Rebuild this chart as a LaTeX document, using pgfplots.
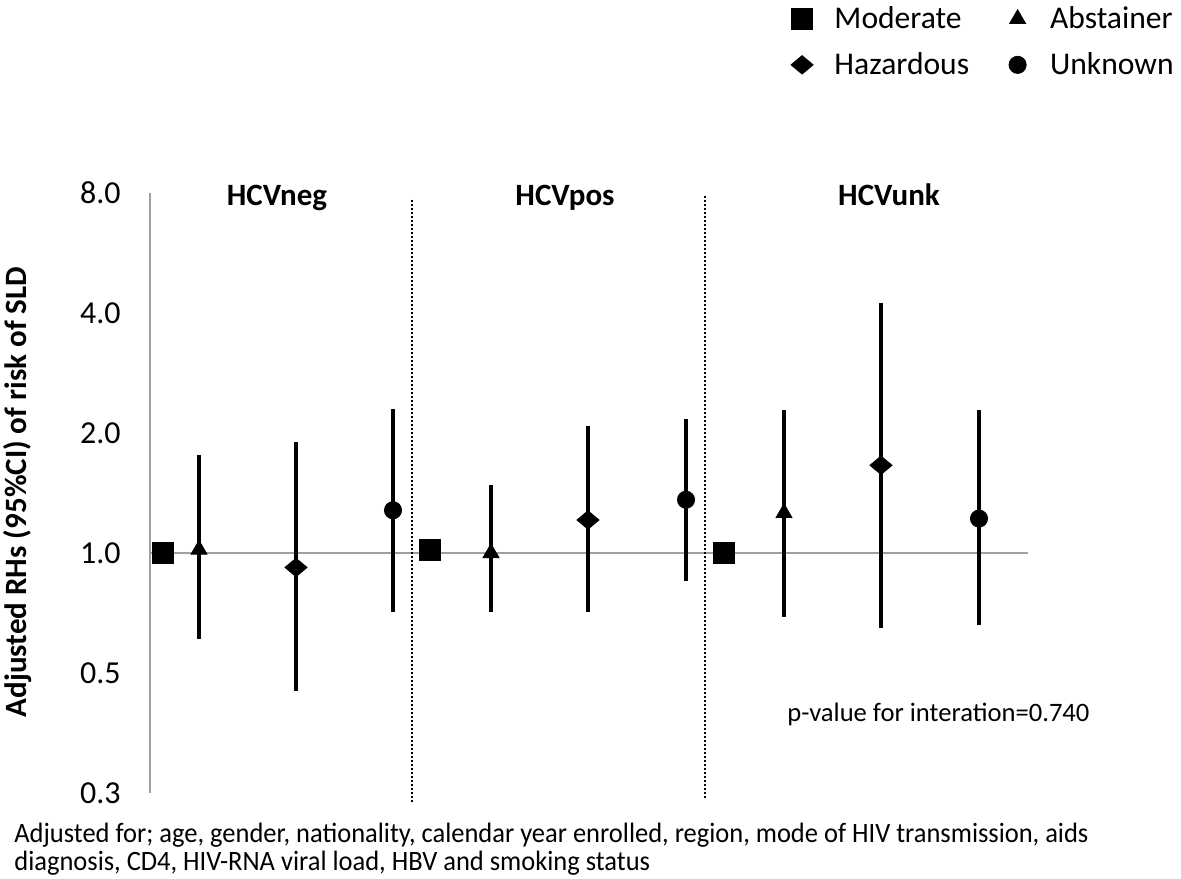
\documentclass[border=0pt]{standalone}
\usepackage{fontspec}
\setmainfont{Carlito}
\usepackage{graphicx}
\usepackage{pgfplots}
\usepackage{pgfplotstable}
\pgfplotsset{compat=1.18}

\pgfplotstableread{
x est lo hi
199 1.02 0.61 1.76
491 1.00 0.71 1.48
784 1.26 0.69 2.29
}\abst
\pgfplotstableread{
x est lo hi
296 0.92 0.45 1.90
588 1.21 0.71 2.08
881 1.66 0.65 4.24
}\haz
\pgfplotstableread{
x est lo hi
393 1.28 0.71 2.30
686 1.36 0.85 2.17
979 1.22 0.66 2.28
}\unk

\newcommand\fnone{Adjusted for; age, gender, nationality, calendar year enrolled, region, mode of HIV transmission, aids}
\newcommand\fntwo{diagnosis, CD4, HIV-RNA viral load, HBV and smoking status}
\newsavebox\fnbox
\newlength\fnw
\newcommand\fnfont{\fontsize{14}{14}\selectfont}
\newcommand\mainfs{\fontsize{15.5}{18}\selectfont}
\newcommand\legfs{\fontsize{15.8}{18}\selectfont}
\newcommand\tickfs{\fontsize{16}{18}\selectfont}
\newcommand\fnline[1]{\sbox\fnbox{\fnone}\setlength\fnw{\wd\fnbox}\pgfmathsetmacro\fnfac{537pt/\fnw}\scalebox{\fnfac}[1]{#1}}

\begin{document}
\begin{tikzpicture}
\path[use as bounding box] (0,0) rectangle (590.5pt,439pt);
\begin{axis}[
  at={(75pt,42.5pt)}, anchor=south west,
  scale only axis, width=439pt, height=300pt,
  xmin=150, xmax=1028,
  ymode=log, log basis y=2, ymin=0.25, ymax=8,
  ytick={0.25,0.5,1,2,4,8},
  yticklabels={0.3,0.5,1.0,2.0,4.0,8.0},
  xtick=\empty,
  axis x line=none,
  axis y line*=left,
  y axis line style={-, gray!75, line width=0.8pt},
  major tick length=0pt,
  yticklabel style={font=\tickfs, anchor=east, inner sep=0pt, xshift=-14.5pt},
  clip=false,
  legend columns=2,
  legend cell align=left,
  legend style={draw=none, fill=none, at={(1.1731,1.3183)}, anchor=north east,
    font=\legfs, row sep=10.5pt, nodes={inner sep=0pt},
    /tikz/every even column/.append style={column sep=19pt}},
  legend image code/.code={\path (-5pt,0pt) (16pt,0pt); \draw[#1] plot coordinates {(0pt,0pt)};},
]
\addplot[gray!75, line width=0.8pt, forget plot] coordinates {(150,1) (1028,1)};
\addplot[black, line width=1pt, dash pattern=on 1pt off 1pt, forget plot] coordinates {(412,7.7) (412,0.237)};
\addplot[black, line width=1pt, dash pattern=on 1pt off 1pt, forget plot] coordinates {(705,7.85) (705,0.243)};

\addplot[only marks, black, mark=square*, mark size=5.2pt] coordinates {(163,1.0) (430,1.02) (724,1.0)};
\addlegendentry{Moderate}
\addplot[only marks, black, mark=triangle*, mark size=4.6pt,
  error bars/.cd, y dir=both, y explicit, error mark=none, error bar style={line width=1.6pt}]
  table[x=x, y=est, y error plus expr=\thisrow{hi}-\thisrow{est}, y error minus expr=\thisrow{est}-\thisrow{lo}] {\abst};
\addlegendentry{Abstainer}
\addplot[only marks, black, mark=diamond*, mark size=4.6pt, mark options={xscale=1.6},
  error bars/.cd, y dir=both, y explicit, error mark=none, error bar style={line width=1.6pt}]
  table[x=x, y=est, y error plus expr=\thisrow{hi}-\thisrow{est}, y error minus expr=\thisrow{est}-\thisrow{lo}] {\haz};
\addlegendentry{Hazardous}
\addplot[only marks, black, mark=*, mark size=4.3pt,
  error bars/.cd, y dir=both, y explicit, error mark=none, error bar style={line width=1.6pt}]
  table[x=x, y=est, y error plus expr=\thisrow{hi}-\thisrow{est}, y error minus expr=\thisrow{est}-\thisrow{lo}] {\unk};
\addlegendentry{Unknown}

\node[font=\bfseries\mainfs, anchor=base] at (axis cs:277,7.46) {HCVneg};
\node[font=\bfseries\mainfs, anchor=base] at (axis cs:565,7.46) {HCVpos};
\node[font=\bfseries\mainfs, anchor=base] at (axis cs:889,7.46) {HCVunk};
\end{axis}

\node[rotate=90, font=\bfseries\mainfs, anchor=center] at (9pt,193pt) {Adjusted RHs (95\%CI) of risk of SLD};
\node[font=\fontsize{13.3}{15}\selectfont, anchor=mid west, inner sep=0pt] at (393.5pt,80.5pt) {p-value for interation=0.740};

\node[font=\fnfont, anchor=base west, inner sep=0pt] at (7pt,18pt) {\fnline{\fnone}};
\node[font=\fnfont, anchor=base west, inner sep=0pt] at (7pt,4pt) {\fnline{\fntwo}};
\end{tikzpicture}
\end{document}
